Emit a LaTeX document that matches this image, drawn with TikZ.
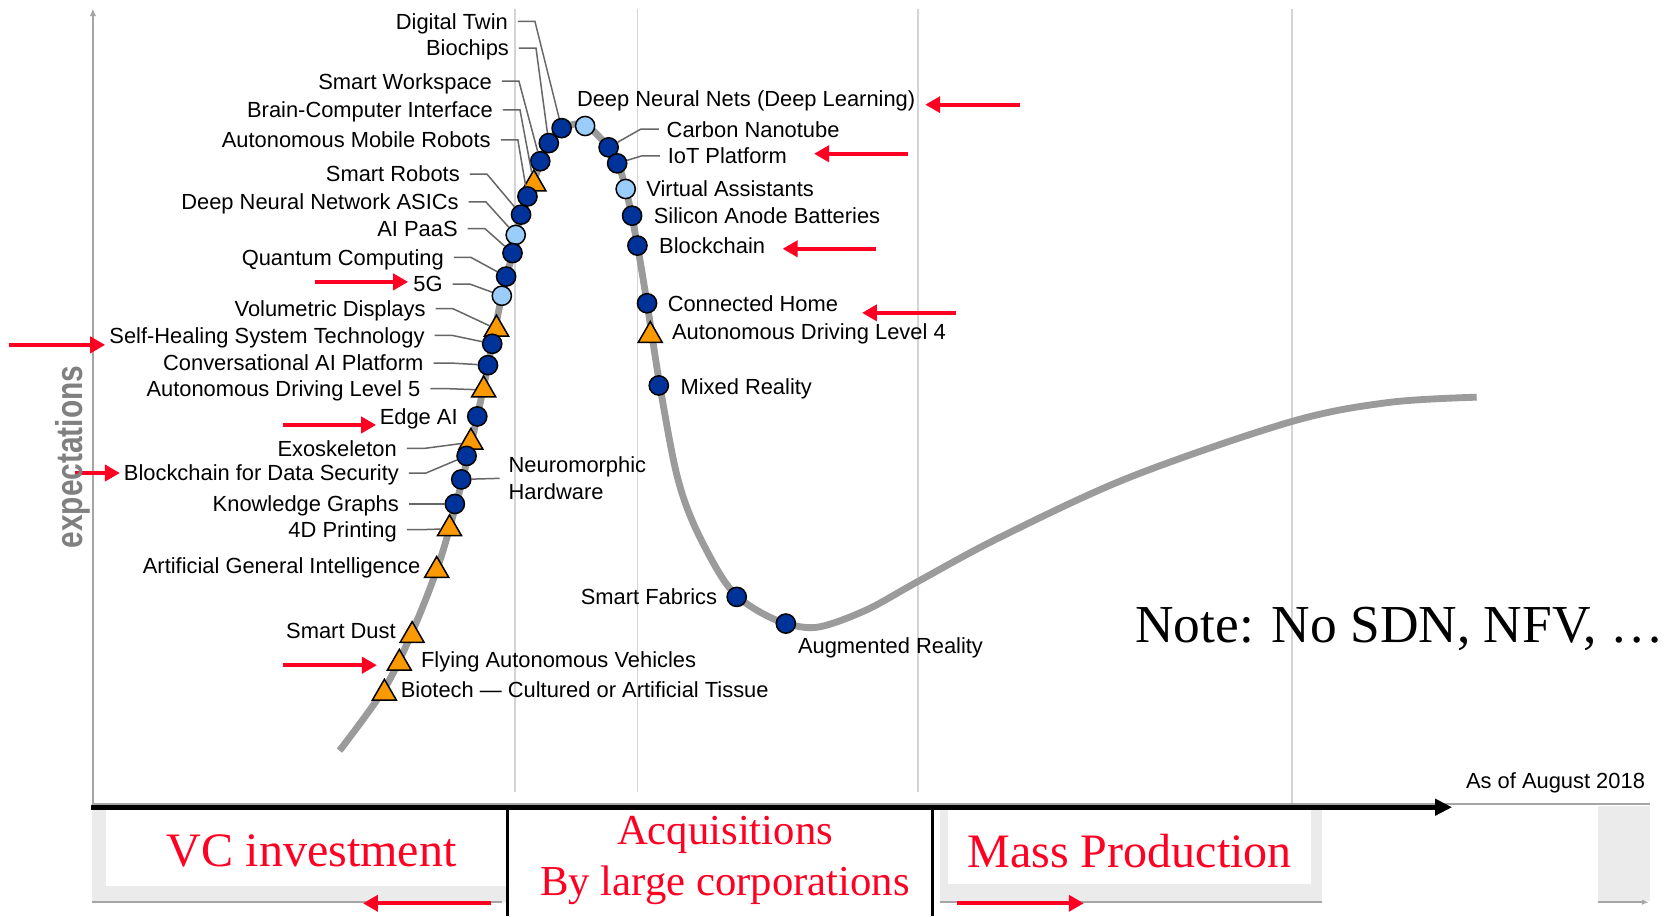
\documentclass[tikz,border=0pt]{standalone}
\usepackage{fontspec}
\setmainfont{Liberation Sans}
\newfontfamily\seriffont{Liberation Serif}
\usepackage{tikz}
\usetikzlibrary{positioning}
\usetikzlibrary{shapes.geometric}
\usetikzlibrary{arrows.meta}
\definecolor{dkblue}{RGB}{0,51,153}
\definecolor{ltblue}{RGB}{155,205,250}
\definecolor{orng}{RGB}{250,153,0}
\definecolor{hred}{RGB}{255,0,35}
\definecolor{curvegray}{RGB}{155,155,155}
\definecolor{gridgray}{RGB}{212,212,212}
\definecolor{bandgray}{RGB}{235,235,235}
\definecolor{axisgray}{RGB}{165,165,165}

\begin{document}
\begin{tikzpicture}
  [
    x=0.5pt, y=-0.5pt,
    dot/.style={circle, draw=black, line width=0.7pt, fill=dkblue,
      minimum size=9pt, inner sep=0pt},
    ldot/.style={dot, fill=ltblue},
    tri/.style={regular polygon, regular polygon sides=3, draw=black,
      line width=0.7pt, fill=orng, minimum size=13pt, inner sep=0pt, yshift=-1.6pt},
    lbl/.style={font=\fontsize{10.25}{12}\selectfont, inner sep=0pt,
      text height=7.35pt, text depth=0pt},
    ld/.style={draw=black!60, line width=0.7pt},
    rarr/.style={draw=hred, line width=1.9pt, -{Triangle[length=7pt,width=7.5pt]}},
    grid/.style={draw=gridgray, line width=0.8pt},
    curve/.style={draw=curvegray, line width=3.2pt},
    big/.style={text=hred, font=\seriffont\fontsize{22.5}{27}\selectfont, inner sep=0pt}
  ]
  \path[use as bounding box, fill=white] (0,0) rectangle (1565,858);

  % grid and axes
  \draw[grid] (482,8) -- (482,742);
  \draw[grid] (597,8) -- (597,742);
  \draw[grid] (860,8) -- (860,742);
  \draw[grid] (1210,8) -- (1210,753);
  \draw[draw=axisgray, line width=0.9pt, -{Latex[length=3.5pt,width=3pt]}] (87,845) -- (87,8);
  \draw[draw=axisgray, line width=0.9pt] (87,753) -- (1545,753);

  \draw[curve] plot[smooth, tension=0.55] coordinates {(318,703) (360,645)
    (386,592) (410,531) (427,473) (442,412) (453,362) (461,322) (470,277) (480,237)
    (488,201) (500,169) (514,134) (527,120) (548,117) (570,138) (579,153) (588,185)
    (597,230) (606,284) (618,361) (633,441) (648,487) (672,534) (690,558) (715,575)
    (740,585) (768,587) (812,571) (859,545) (937,503) (1058,447) (1209,395)
    (1300,377) (1383,372)};

  % rising side
  \node (m1)  at (526,120) [dot]  {};
  \node (m2)  at (514,134) [dot]  {};
  \node (m3)  at (506,151) [dot]  {};
  \node (m4)  at (500,169) [tri]  {};
  \node (m5)  at (494,184) [dot]  {};
  \node (m6)  at (488,201) [dot]  {};
  \node (m7)  at (483,220) [ldot] {};
  \node (m8)  at (480,237) [dot]  {};
  \node (m9)  at (474,259) [dot]  {};
  \node (m10) at (470,277) [ldot] {};
  \node (m11) at (465,305) [tri]  {};
  \node (m12) at (461,322) [dot]  {};
  \node (m13) at (457,342) [dot]  {};
  \node (m14) at (453,362) [tri]  {};
  \node (m15) at (447,390) [dot]  {};
  \node (m16) at (441,411) [tri]  {};
  \node (m17) at (437,427) [dot]  {};
  \node (m18) at (432,449) [dot]  {};
  \node (m19) at (426,472) [dot]  {};
  \node (m20) at (421,492) [tri]  {};
  \node (m21) at (409,531) [tri]  {};
  \node (m22) at (386,592) [tri]  {};
  \node (m23) at (374,618) [tri]  {};
  \node (m24) at (360,646) [tri]  {};

  % peak and falling side
  \node (n1)  at (548,118) [ldot] {};
  \node (n2)  at (570,138) [dot]  {};
  \node (n3)  at (578,153) [dot]  {};
  \node (n4)  at (586,177) [ldot] {};
  \node (n5)  at (592,202) [dot]  {};
  \node (n6)  at (597,230) [dot]  {};
  \node (n7)  at (606,284) [dot]  {};
  \node (n8)  at (609,311) [tri]  {};
  \node (n9)  at (617,361) [dot]  {};
  \node (n10) at (690,559) [dot]  {};
  \node (n11) at (736,584) [dot]  {};

  \node (l1)  at (476,20)  [lbl, anchor=east] {Digital Twin};
  \node (l2)  at (477,45)  [lbl, anchor=east] {Biochips};
  \node (l3)  at (461,76)  [lbl, anchor=east] {Smart Workspace};
  \node (l4)  at (462,103) [lbl, anchor=east] {Brain-Computer Interface};
  \node (l5)  at (460,131) [lbl, anchor=east] {Autonomous Mobile Robots};
  \node (l6)  at (431,163) [lbl, anchor=east] {Smart Robots};
  \node (l7)  at (430,189) [lbl, anchor=east] {Deep Neural Network ASICs};
  \node (l8)  at (429,214) [lbl, anchor=east] {AI PaaS};
  \node (l9)  at (416,241) [lbl, anchor=east] {Quantum Computing};
  \node (l10) at (415,266) [lbl, anchor=east] {5G};
  \node (l11) at (399,289) [lbl, anchor=east] {Volumetric Displays};
  \node (l12) at (398,314) [lbl, anchor=east] {Self-Healing System Technology};
  \node (l13) at (397,340) [lbl, anchor=east] {Conversational AI Platform};
  \node (l14) at (394,364) [lbl, anchor=east] {Autonomous Driving Level 5};
  \node (l15) at (429,390) [lbl, anchor=east] {Edge AI};
  \node (l16) at (372,420) [lbl, anchor=east] {Exoskeleton};
  \node (l17) at (374,443) [lbl, anchor=east] {Blockchain for Data Security};
  \node (l18) at (476,448) [font=\fontsize{10.25}{12.5}\selectfont, inner sep=0pt,
    align=left, anchor=west] {Neuromorphic\\Hardware};
  \node (l19) at (374,472) [lbl, anchor=east] {Knowledge Graphs};
  \node (l20) at (372,496) [lbl, anchor=east] {4D Printing};
  \node (l21) at (394,530) [lbl, anchor=east] {Artificial General Intelligence};
  \node (l22) at (371,591) [lbl, anchor=east] {Smart Dust};
  \node (l23) at (394,618) [lbl, anchor=west] {Flying Autonomous Vehicles};
  \node (l24) at (375,646) [lbl, anchor=west] {Biotech — Cultured or Artificial Tissue};

  \node (r1)  at (540,92)  [lbl, anchor=west] {Deep Neural Nets (Deep Learning)};
  \node (r2)  at (624,121) [lbl, anchor=west] {Carbon Nanotube};
  \node (r3)  at (625,146) [lbl, anchor=west] {IoT Platform};
  \node (r4)  at (605,177) [lbl, anchor=west] {Virtual Assistants};
  \node (r5)  at (612,202) [lbl, anchor=west] {Silicon Anode Batteries};
  \node (r6)  at (617,230) [lbl, anchor=west] {Blockchain};
  \node (r7)  at (625,284) [lbl, anchor=west] {Connected Home};
  \node (r8)  at (629,311) [lbl, anchor=west] {Autonomous Driving Level 4};
  \node (r9)  at (637,362) [lbl, anchor=west] {Mixed Reality};
  \node (r10) at (672,559) [lbl, anchor=east] {Smart Fabrics};
  \node (r11) at (747,605) [lbl, anchor=west] {Augmented Reality};

  % leader lines
  \foreach \i in {1,...,14,16,17,19,20}
    \draw[ld] (l\i.east) ++(9,0) -- ++(16,0) -- (m\i);
  \draw[ld] (l18.west) ++(-8,0) -- (m18);
  \draw[ld] (r2.west) ++(-7,0) -- ++(-17,0) -- (n2);
  \draw[ld] (r3.west) ++(-7,0) -- ++(-17,0) -- (n3);

  % red pointers
  \coordinate (t1) at (955,98);
  \coordinate (t2) at (850,144);
  \coordinate (t3) at (820,233);
  \coordinate (t4) at (895,293);
  \coordinate (t5) at (295,264);
  \coordinate (t6) at (8,323);
  \coordinate (t7) at (265,398);
  \coordinate (t8) at (70,443);
  \coordinate (t9) at (265,623);
  \draw[rarr, shorten >=4.5pt]  (t1) -- (t1 -| r1.east);
  \draw[rarr, shorten >=12.5pt] (t2) -- (t2 -| r3.east);
  \draw[rarr, shorten >=8pt]    (t3) -- (t3 -| r6.east);
  \draw[rarr, shorten >=11pt]   (t4) -- (t4 -| r7.east);
  \draw[rarr, shorten >=2.3pt]  (t5) -- (t5 -| l10.west);
  \draw[rarr, shorten >=1.8pt]  (t6) -- (t6 -| l12.west);
  \draw[rarr, shorten >=1.5pt]  (t7) -- (t7 -| l15.west);
  \draw[rarr, shorten >=1.7pt]  (t8) -- (t8 -| l17.west);
  \draw[rarr, shorten >=10.5pt] (t9) -- (t9 -| m23);

  \node (date) at (1541,731) [lbl, anchor=east] {As of August 2018};
  \node (ylab) at (68,428) [rotate=90, yscale=1.25, text=black!50,
    font=\bfseries\fontsize{14}{16}\selectfont, inner sep=0pt] {expectations};
  \node (note) at (1063,602) [anchor=base west, inner sep=0pt,
    font=\seriffont\fontsize{25}{30}\selectfont] {Note: No SDN, NFV, …};

  % phase bands
  \fill[bandgray] (86,757) rectangle (475,845);
  \fill[white] (99,757) rectangle (475,830);
  \draw[draw=axisgray, line width=1pt] (86,845) -- (470,845);
  \fill[bandgray] (880,757) rectangle (1238,845);
  \fill[white] (888,757) rectangle (1228,828);
  \draw[draw=axisgray, line width=1pt] (880,845) -- (1238,845);
  \fill[bandgray] (1497,755) rectangle (1545,844);
  \coordinate (g1) at (1497,845);
  \coordinate (g2) at (1544,845);
  \draw[draw=axisgray, line width=1pt, -{Latex[length=3pt,width=2.5pt]}] (g1) -- (g2);

  \coordinate (ax0) at (85,756);
  \coordinate (ax1) at (1360,756);
  \draw[line width=2.2pt, -{Triangle[length=8pt,width=7.5pt]}] (ax0) -- (ax1);
  \coordinate (d1) at (475,756);
  \coordinate (d2) at (873,756);
  \draw[line width=1.5pt] (d1) -- (d1 |- 0,858);
  \draw[line width=1.5pt] (d2) -- (d2 |- 0,858);

  \node (vc)  at (292,797) [big] {VC investment};
  \node (acq) at (679,806) [big, font=\seriffont\fontsize{20}{24}\selectfont,
    align=center] {Acquisitions\\By large corporations};
  \node (mp)  at (1058,797) [big] {Mass Production};

  \coordinate (vcA) at (460,846);
  \coordinate (vcB) at (340,846);
  \coordinate (mpA) at (896,846);
  \coordinate (mpB) at (1015,846);
  \draw[rarr] (vcA) -- (vcB);
  \draw[rarr] (mpA) -- (mpB);
\end{tikzpicture}
\end{document}
